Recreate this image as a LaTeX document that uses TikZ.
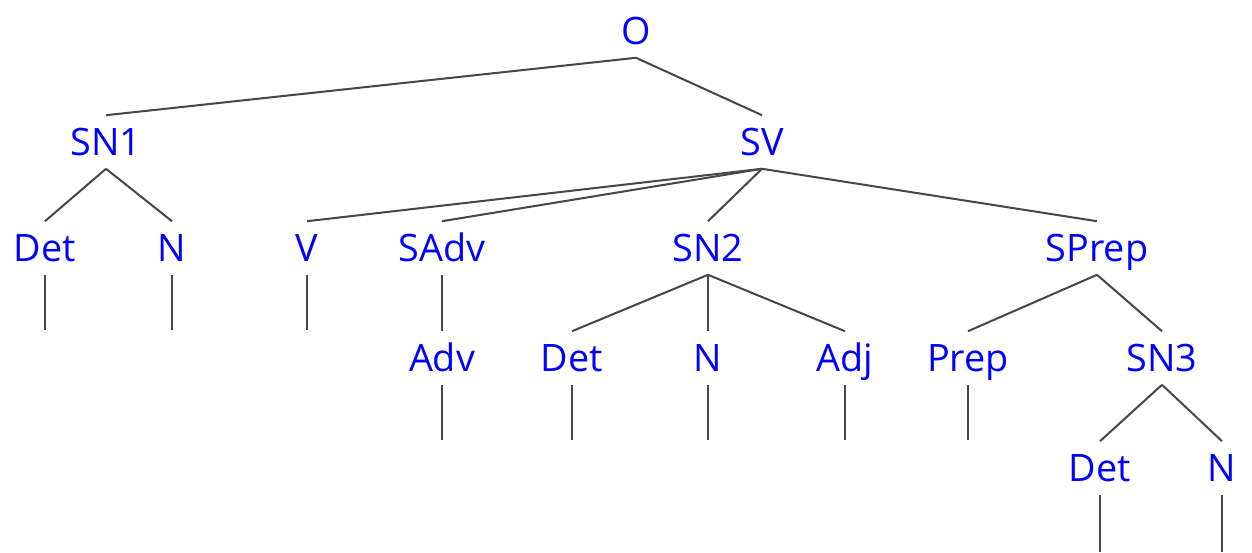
\documentclass[tikz,border=0pt]{standalone}
\usepackage{fontspec}
\setmainfont{Open Sans}
\usepackage{tikz}
\usetikzlibrary{calc,positioning}
\definecolor{catblue}{rgb}{0.0,0.0,1.0}

\begin{document}
\begin{tikzpicture}[x=0.02cm,y=-0.02cm,
    cat/.style={text=catblue,font=\fontsize{21.5}{26}\selectfont,inner sep=0pt,outer sep=7.5pt,text height=15.5pt,text depth=0pt},
    branch/.style={draw=black!72,line width=1.15pt}]
  \useasboundingbox (0,0) rectangle (1252,552);
  % categories
  \node[cat] (O) at (636,31) {O};
  \node[cat] (SN1) at (106,142) {SN1};
  \node[cat] (SV) at (762,142) {SV};
  \node[cat] (Det1) at (45,248) {Det};
  \node[cat] (N1) at (172,248) {N};
  \node[cat] (V) at (307,248) {V};
  \node[cat] (SAdv) at (442,248) {SAdv};
  \node[cat] (SN2) at (708,248) {SN2};
  \node[cat] (SPrep) at (1097,248) {SPrep};
  \node[cat] (Adv) at (442,358) {Adv};
  \node[cat] (Det2) at (572,358) {Det};
  \node[cat] (N2) at (708,358) {N};
  \node[cat] (Adj) at (845,358) {Adj};
  \node[cat] (Prep) at (968,358) {Prep};
  \node[cat] (SN3) at (1162,358) {SN3};
  \node[cat] (Det3) at (1100,468) {Det};
  \node[cat] (N3) at (1222,468) {N};
  % branches
  \draw[branch] (O.south) -- (SN1.north)
    (O.south) -- (SV.north);
  \draw[branch] (SN1.south) -- (Det1.north)
    (SN1.south) -- (N1.north);
  \foreach \c in {V,SAdv,SN2,SPrep}
    \draw[branch] (SV.south) -- (\c.north);
  \draw[branch] (SAdv.south) -- (Adv.north);
  \foreach \c in {Det2,N2,Adj}
    \draw[branch] (SN2.south) -- (\c.north);
  \draw[branch] (SPrep.south) -- (Prep.north)
    (SPrep.south) -- (SN3.north);
  \draw[branch] (SN3.south) -- (Det3.north)
    (SN3.south) -- (N3.north);
  % leaves
  \foreach \n/\y in {Det1/330,N1/330,V/330,Adv/440,Det2/440,N2/440,Adj/440,Prep/440,Det3/552,N3/552} {
    \coordinate (\n-leaf) at (\n.south |- 0,\y);
    \draw[branch] (\n.south) -- (\n-leaf);
  }
\end{tikzpicture}
\end{document}
